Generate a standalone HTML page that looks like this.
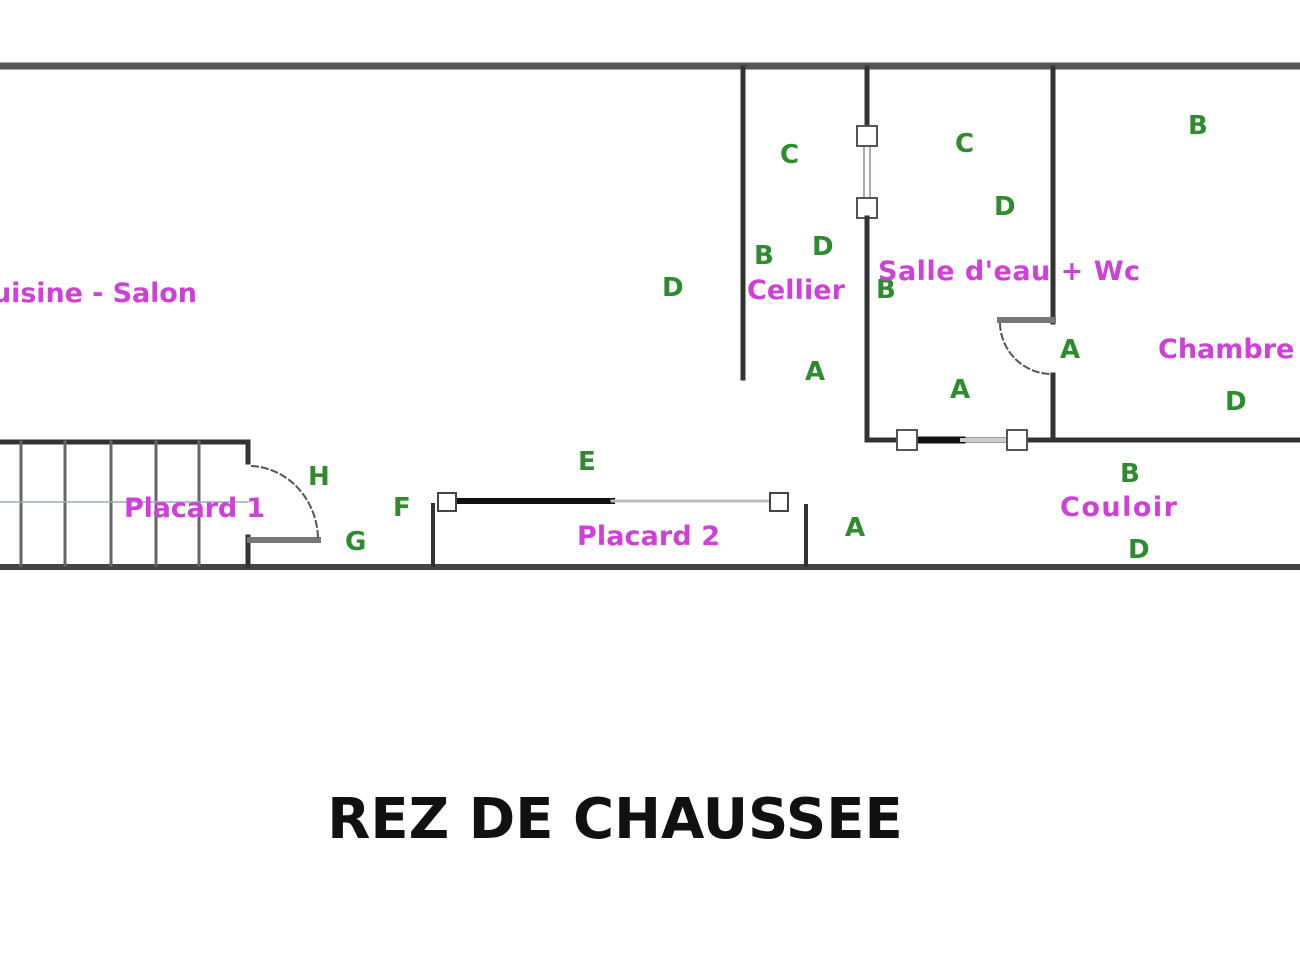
<!DOCTYPE html>
<html><head><meta charset="utf-8"><style>
html,body{margin:0;padding:0;background:#fff;width:1300px;height:975px;overflow:hidden}
svg{display:block}
.g{fill:#2e8b2e;font-family:"DejaVu Sans","Liberation Sans",sans-serif;font-weight:bold;font-size:26px}
.m{fill:#d040d8;font-family:"DejaVu Sans","Liberation Sans",sans-serif;font-weight:bold;font-size:27px}
</style></head><body>
<svg width="1300" height="975" viewBox="0 0 1300 975">
<g stroke="#333" fill="none" stroke-linecap="square">
<line x1="0" y1="66" x2="1300" y2="66" stroke="#555" stroke-width="7"/>
<line x1="0" y1="567" x2="1300" y2="567" stroke="#444" stroke-width="6"/>
<polyline points="0,442 248,442 248,462" stroke-width="5"/>
<polyline points="248,537 248,565" stroke-width="5"/>
<g stroke="#666" stroke-width="3">
<line x1="21" y1="442" x2="21" y2="565"/><line x1="65" y1="442" x2="65" y2="565"/>
<line x1="111" y1="442" x2="111" y2="565"/><line x1="156" y1="442" x2="156" y2="565"/>
<line x1="199" y1="442" x2="199" y2="565"/></g>
<line x1="0" y1="502" x2="248" y2="502" stroke="#9ab" stroke-width="1.5"/>
<line x1="250" y1="540" x2="318" y2="540" stroke="#777" stroke-width="6"/>
<path d="M252,466 A70,74 0 0 1 318,540" stroke="#555" stroke-width="2" stroke-dasharray="6,4"/>
<line x1="433" y1="505" x2="433" y2="565" stroke-width="4"/>
<line x1="806" y1="506" x2="806" y2="565" stroke-width="4"/>
<line x1="458" y1="501" x2="612" y2="501" stroke="#111" stroke-width="6"/>
<line x1="612" y1="501" x2="772" y2="501" stroke="#bbb" stroke-width="3"/>
<rect x="438" y="493" width="18" height="18" fill="#fff" stroke="#444" stroke-width="2"/>
<rect x="770" y="493" width="18" height="18" fill="#fff" stroke="#444" stroke-width="2"/>
<line x1="743" y1="68" x2="743" y2="378" stroke-width="5"/>
<line x1="867" y1="68" x2="867" y2="126" stroke-width="5"/>
<line x1="864" y1="146" x2="864" y2="198" stroke="#aab" stroke-width="2"/>
<line x1="870" y1="146" x2="870" y2="198" stroke="#aab" stroke-width="2"/>
<rect x="857" y="126" width="20" height="20" fill="#fff" stroke="#555" stroke-width="2"/>
<rect x="857" y="198" width="20" height="20" fill="#fff" stroke="#555" stroke-width="2"/>
<polyline points="867,218 867,440 1300,440" stroke-width="5"/>
<line x1="920" y1="440" x2="962" y2="440" stroke="#111" stroke-width="7"/>
<line x1="962" y1="440" x2="1008" y2="440" stroke="#ccc" stroke-width="4"/>
<rect x="897" y="430" width="20" height="20" fill="#fff" stroke="#555" stroke-width="2"/>
<rect x="1007" y="430" width="20" height="20" fill="#fff" stroke="#555" stroke-width="2"/>
<line x1="1053" y1="68" x2="1053" y2="322" stroke-width="5"/>
<line x1="1000" y1="320" x2="1053" y2="320" stroke="#777" stroke-width="6"/>
<line x1="1053" y1="375" x2="1053" y2="440" stroke-width="5"/>
<path d="M1000,324 A52,52 0 0 0 1050,374" stroke="#555" stroke-width="2" stroke-dasharray="6,4"/>
</g>
<text class="g" x="780" y="163">C</text>
<text class="g" x="955" y="152">C</text>
<text class="g" x="1188" y="134">B</text>
<text class="g" x="994" y="215">D</text>
<text class="g" x="812" y="255">D</text>
<text class="g" x="754" y="264">B</text>
<text class="g" x="662" y="296">D</text>
<text class="g" x="876" y="298">B</text>
<text class="g" x="1060" y="358">A</text>
<text class="g" x="805" y="380">A</text>
<text class="g" x="950" y="398">A</text>
<text class="g" x="1225" y="410">D</text>
<text class="g" x="578" y="470">E</text>
<text class="g" x="308" y="485">H</text>
<text class="g" x="1120" y="482">B</text>
<text class="g" x="393" y="516">F</text>
<text class="g" x="845" y="536">A</text>
<text class="g" x="345" y="550">G</text>
<text class="g" x="1128" y="558">D</text>
<text class="m" x="-8" y="302" textLength="205">uisine - Salon</text>
<text class="m" x="747" y="299" textLength="98">Cellier</text>
<text class="m" x="878" y="280" textLength="262">Salle d'eau + Wc</text>
<text class="m" x="1158" y="358">Chambre</text>
<text class="m" x="124" y="517" textLength="141">Placard 1</text>
<text class="m" x="1060" y="516" textLength="117">Couloir</text>
<text class="m" x="577" y="545" textLength="143">Placard 2</text>
<text x="615" y="838" text-anchor="middle" font-family="'DejaVu Sans','Liberation Sans',sans-serif" font-weight="bold" font-size="56" fill="#111">REZ DE CHAUSSEE</text>
</svg>
</body></html>
